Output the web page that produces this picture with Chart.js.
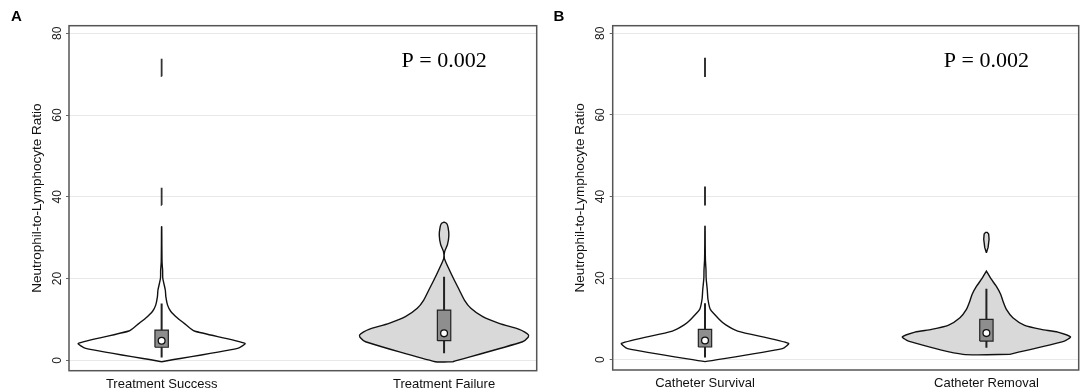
<!DOCTYPE html>
<html><head><meta charset="utf-8">
<script src="https://cdn.jsdelivr.net/npm/chart.js"></script>
<style>
html,body{margin:0;padding:0;background:#fff;}
#wrap{position:relative;width:1084px;height:390px;overflow:hidden;}
.panel{position:absolute;top:0;width:542px;height:390px;}
</style></head><body>
<div id="wrap">
<div class="panel" style="left:0"><canvas id="cA" width="542" height="390"></canvas></div>
<div class="panel" style="left:542px"><canvas id="cB" width="542" height="390"></canvas></div>
</div>
<script>
// ---------- data ----------
const yTickValues = [0, 20, 40, 60, 80];
const groupsA = ['Treatment Success', 'Treatment Failure'];
const groupsB = ['Catheter Survival', 'Catheter Removal'];
const pTextA = 'P = 0.002';
const pTextB = 'P = 0.002';
const yTitle = 'Neutrophil-to-Lymphocyte Ratio';

// violin density profiles: NLR level -> half-width (category units); null = gap in trace
const successLevels = [-0.34, 2.93, 4.16, 7.17, 8.7, 10.27, 12.0, 13.5, 15.5, 17.2, 20.1, 22.0, 24.0, 28.0, 32.7, 35, 38.0, 40.0, 42.2, 55, 69.5, 71.5, 73.8];
const successWidths = [0, 0.269, 0.295, 0.116, 0.086, 0.057, 0.032, 0.021, 0.015, 0.013, 0.004, 0.0035, 0.0015, 0.0008, 0.0004, null, 0.0003, 0.0005, 0.0003, null, 0.0003, 0.0005, 0.0003];

const failureLevels = [-0.34, 4.55, 5.6, 6.19, 6.9, 7.58, 9.05, 10.67, 12.72, 14.75, 17.2, 19.65, 22.1, 24.95, 26.6, 28.3, 30.6, 32.6, 33.5, 33.8];
const failureWidths = [0.031, 0.278, 0.297, 0.299, 0.286, 0.266, 0.195, 0.137, 0.095, 0.072, 0.054, 0.036, 0.019, 0.001, 0.002, 0.012, 0.017, 0.014, 0.009, 0];

const survivalLevels = [-0.5, 2.7, 4.0, 7.0, 8.5, 9.86, 12.3, 14.8, 17.2, 20.0, 22.0, 24.5, 28.0, 32.7, 35, 38.0, 40.0, 42.2, 55, 69.5, 71.5, 73.8];
const survivalWidths = [0, 0.275, 0.297, 0.116, 0.074, 0.051, 0.019, 0.0105, 0.008, 0.004, 0.0035, 0.0015, 0.0008, 0.0004, null, 0.0003, 0.0005, 0.0003, null, 0.0003, 0.0005, 0.0003];

const removalLevels = [1.3, 4.55, 5.6, 6.75, 7.41, 8.39, 10.27, 12.3, 14.3, 15.98, 18.0, 19.65, 21.7, 24, 26.2, 27.5, 29.5, 30.8, 31.2];
const removalWidths = [0.083, 0.277, 0.299, 0.254, 0.195, 0.136, 0.094, 0.071, 0.059, 0.051, 0.035, 0.018, 0, null, 0, 0.006, 0.0095, 0.008, 0.003];

// box plot statistics per group
const lowA = [0.7, 1.7];
const q1A = [3.2, 4.8];
const medA = [4.8, 6.6];
const q3A = [7.4, 12.3];
const highA = [13.9, 20.45];

const lowB = [0.5, 2.9];
const q1B = [3.1, 4.55];
const medB = [4.7, 6.5];
const q3B = [7.4, 9.86];
const highB = [13.8, 17.4];

// ---------- builders ----------
Chart.defaults.font.family = "'Liberation Sans', Arial, sans-serif";
Chart.defaults.color = '#222';

function violinSegments(levels, widths, center) {
  const segs = []; let cur = [];
  levels.forEach((y, i) => {
    const w = widths[i];
    if (w === null) { if (cur.length) segs.push(cur); cur = []; }
    else cur.push({y, w});
  });
  if (cur.length) segs.push(cur);
  return segs.map(seg => {
    const right = seg.map(p => ({x: center + p.w, y: p.y}));
    const left = seg.slice().reverse().map(p => ({x: center - p.w, y: p.y}));
    const pts = right.concat(left);
    pts.push({x: pts[0].x, y: pts[0].y});
    return {pts, maxW: Math.max(...seg.map(p => p.w))};
  });
}

const BOX_HW = 0.0237;
function buildDatasets(violins, low, q1, med, q3, high) {
  const ds = [];
  violins.forEach((v, i) => {
    const c = i + 1;
    violinSegments(v.levels, v.widths, c).forEach(seg => {
      const thin = seg.maxW < 0.003;
      ds.push({type: 'line', data: seg.pts, fill: 'shape', backgroundColor: v.fill,
        borderColor: thin ? '#333' : '#111', borderWidth: thin ? 1.8 : 1.4, pointRadius: 0,
        tension: seg.maxW < 0.01 ? 0 : 0.2, order: 4});
    });
    ds.push({type: 'line', data: [{x: c, y: low[i]}, {x: c, y: high[i]}], fill: false,
      borderColor: '#222', borderWidth: 2, pointRadius: 0, order: 3});
    ds.push({type: 'line', data: [
      {x: c - BOX_HW, y: q1[i]}, {x: c + BOX_HW, y: q1[i]}, {x: c + BOX_HW, y: q3[i]},
      {x: c - BOX_HW, y: q3[i]}, {x: c - BOX_HW, y: q1[i]}],
      fill: 'shape', backgroundColor: '#8e8e8e', borderColor: '#222', borderWidth: 1.2,
      pointRadius: 0, tension: 0, order: 2});
    ds.push({type: 'scatter', data: [{x: c, y: med[i]}], pointRadius: 3.4,
      pointBackgroundColor: '#fff', pointBorderColor: '#111', pointBorderWidth: 1.3, order: 1});
  });
  return ds;
}

const decorPlugin = {
  id: 'decor',
  afterDraw(chart, args, opts) {
    const {ctx, chartArea: a, scales: {x, y}} = chart;
    ctx.save();
    ctx.strokeStyle = '#555';
    ctx.lineWidth = 1.5;
    ctx.strokeRect(a.left, a.top, a.right - a.left, a.bottom - a.top);
    ctx.fillStyle = '#000';
    ctx.font = "bold 15px 'Liberation Sans', Arial, sans-serif";
    ctx.textAlign = 'center'; ctx.textBaseline = 'middle';
    ctx.fillText(opts.letter, opts.letterX, opts.letterY);
    // category labels under each group, at the x scale's tick positions
    ctx.font = "13px 'Liberation Sans', Arial, sans-serif";
    ctx.fillStyle = '#111';
    ctx.textBaseline = 'alphabetic';
    x.ticks.forEach(t => {
      ctx.fillText(opts.groups[Math.round(t.value) - 1], x.getPixelForValue(t.value), a.bottom + 17);
    });
    ctx.fillStyle = '#000';
    ctx.font = "22px 'Liberation Serif', 'Times New Roman', serif";
    ctx.fillText(opts.pText, x.getPixelForValue(2), y.getPixelForValue(71.7));
    ctx.restore();
  }
};

function makeChart(id, groups, datasets, cfg) {
  return new Chart(document.getElementById(id), {
    type: 'scatter',
    data: {datasets},
    plugins: [decorPlugin],
    options: {
      responsive: false,
      animation: false,
      layout: {padding: {left: 0, top: 25.7, right: cfg.padRight, bottom: 0}},
      plugins: {legend: {display: false}, tooltip: {enabled: false},
        decor: {letter: cfg.letter, letterX: cfg.letterX, letterY: cfg.letterY, pText: cfg.pText, groups}},
      scales: {
        x: {type: 'linear', min: 0.672, max: 2.328,
          afterBuildTicks: s => { s.ticks = groups.map((g, i) => ({value: i + 1})); },
          ticks: {display: false},
          grid: {display: false}, border: {display: false},
          afterFit: s => { s.height = cfg.xHeight; }},
        y: {type: 'linear', min: -2.54, max: 81.86,
          afterBuildTicks: s => { s.ticks = yTickValues.map(v => ({value: v})); },
          ticks: {minRotation: 90, maxRotation: 90, crossAlign: 'center', padding: 2,
            font: {size: 12}, color: '#222'},
          grid: {color: '#e8e8e8', lineWidth: 1, tickLength: 3, tickColor: '#666'},
          border: {display: false},
          title: {display: true, text: yTitle, font: {size: 13.5}, color: '#111',
            padding: {top: cfg.titlePad, bottom: 0}},
          afterFit: s => { s.width = cfg.yWidth; }}
      }
    }
  });
}

makeChart('cA', groupsA, buildDatasets([
  {levels: successLevels, widths: successWidths, fill: '#ffffff'},
  {levels: failureLevels, widths: failureWidths, fill: '#d9d9d9'}
], lowA, q1A, medA, q3A, highA), {padRight: 3.7, xHeight: 19.3, yWidth: 69, titlePad: 29,
  letter: 'A', letterX: 16.3, letterY: 17.2, pText: pTextA});

makeChart('cB', groupsB, buildDatasets([
  {levels: survivalLevels, widths: survivalWidths, fill: '#ffffff'},
  {levels: removalLevels, widths: removalWidths, fill: '#d9d9d9'}
], lowB, q1B, medB, q3B, highB), {padRight: 2, xHeight: 20, yWidth: 70.7, titlePad: 30.5,
  letter: 'B', letterX: 17, letterY: 16.7, pText: pTextB});
</script>
</body></html>
